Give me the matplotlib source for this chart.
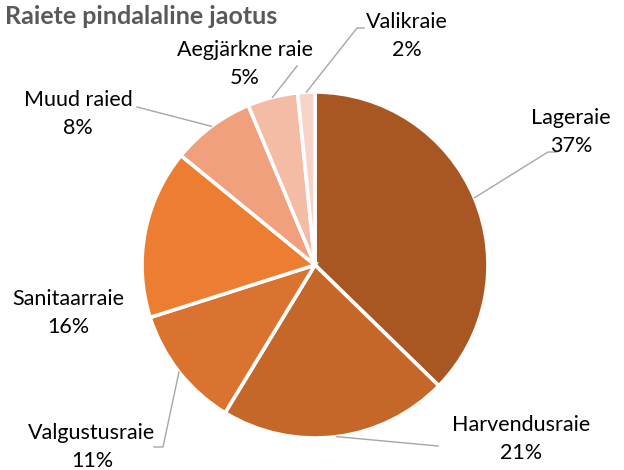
import matplotlib.pyplot as plt
import numpy as np

labels = ['Lageraie', 'Harvendusraie', 'Valgustusraie', 'Sanitaarraie',
          'Muud raied', 'Aegjärkne raie', 'Valikraie']
shares = [37.3, 21.4, 11.4, 15.8, 7.8, 4.7, 1.6]
colors = ['#A95722', '#C56729', '#DA732F', '#ED7D31', '#F0A07C', '#F4BBA5', '#F8D4C8']

# where the labels sit (pixel centres in the picture) and the bends of the leader lines
label_pos = [(571, 132), (521, 439), (92, 447), (68, 313), (78, 114), (245, 64), (407, 36)]
leader_bends = [[(548, 152), (557, 152)], [(438, 446)], [(163, 447), (154, 447)], None,
                [(137, 107)], [(297, 66)], [(357, 28), (364, 28)]]

plt.rcParams['font.family'] = ['Lato', 'DejaVu Sans']

W, H = 624, 470
fig = plt.figure(figsize=(W / 100, H / 100), dpi=100)
cx, cy, r = 315, 265, 173
ax = fig.add_axes([(cx - r) / W, (H - cy - r) / H, 2 * r / W, 2 * r / H])

wedges, _ = ax.pie(shares, colors=colors, startangle=90, counterclock=False, radius=1,
                   wedgeprops=dict(edgecolor='white', linewidth=2.6))
ax.set_xlim(-1, 1)
ax.set_ylim(-1, 1)


def px(x, y):
    return (x - cx) / r, (cy - y) / r


for w, lab, val, pos, bends in zip(wedges, labels, shares, label_pos, leader_bends):
    tx, ty = px(*pos)
    ax.text(tx, ty, f'{lab}\n{round(val)}%', ha='center', va='center', fontsize=15.5,
            linespacing=1.45, color='black', clip_on=False)
    if bends:
        mid = np.deg2rad((w.theta1 + w.theta2) / 2)
        xs = [np.cos(mid)] + [px(*b)[0] for b in bends]
        ys = [np.sin(mid)] + [px(*b)[1] for b in bends]
        ax.plot(xs, ys, color='#A6A6A6', lw=1, clip_on=False)

fig.text(5 / W, 1 - 16 / H, 'Raiete pindalaline jaotus', fontsize=18, fontweight='bold',
         color='#595959', ha='left', va='center')

fig.savefig('out.png', dpi=100)
